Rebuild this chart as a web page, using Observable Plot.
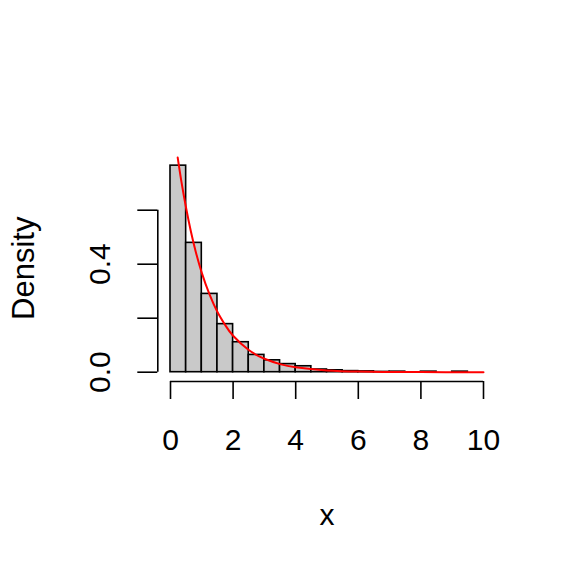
<!DOCTYPE html>
<html>
<head>
<meta charset="utf-8">
<script src="https://cdn.jsdelivr.net/npm/d3@7"></script>
<script src="https://cdn.jsdelivr.net/npm/@observablehq/plot@0.6"></script>
<style>
  html, body { margin: 0; padding: 0; background: white; }
  svg { display: block; }
</style>
</head>
<body>
<div id="chart"></div>
<script>
// Histogram bins (left edges, width 0.5) and densities
const binStart = [0, 0.5, 1, 1.5, 2, 2.5, 3, 3.5, 4, 4.5, 5, 5.5, 6, 6.5, 7, 7.5, 8, 8.5, 9];
const binEnd   = [0.5, 1, 1.5, 2, 2.5, 3, 3.5, 4, 4.5, 5, 5.5, 6, 6.5, 7, 7.5, 8, 8.5, 9, 9.5];
const density  = [0.765, 0.479, 0.290, 0.178, 0.111, 0.064, 0.044, 0.030, 0.022, 0.010,
                  0.007, 0.004, 0.003, 0.001, 0.002, 0.000, 0.002, 0.000, 0.002];

// Red density curve
const curveX = [0.23, 0.35, 0.5, 0.65, 0.8, 1, 1.25, 1.5, 1.75, 2, 2.5, 3, 3.5, 4, 5, 6, 7, 8, 9, 10];
const curveY = [0.795, 0.705, 0.607, 0.522, 0.449, 0.368, 0.287, 0.223, 0.174, 0.135,
                0.082, 0.050, 0.030, 0.018, 0.0067, 0.0025, 0.0009, 0.0003, 0.0001, 0.00005];

const xTicks = [0, 2, 4, 6, 8, 10];
const yTicks = [0, 0.2, 0.4, 0.6];
const yLabels = [0, 0.4];
const xTitle = "x";
const yTitle = "Density";

const bins = binStart.map((s, i) => ({x1: s, x2: binEnd[i], y: density[i]}));
const curve = curveX.map((x, i) => ({x, y: curveY[i]}));

const font = "Liberation Sans, Arial, Helvetica, sans-serif";

const chart = Plot.plot({
  width: 576,
  height: 576,
  marginLeft: 170,
  marginRight: 93,
  marginTop: 209.7,
  marginBottom: 204.3,
  style: {fontFamily: font, background: "white", color: "black"},
  x: {domain: [0, 10], axis: null},
  y: {domain: [0, 0.6], axis: null},
  marks: [
    Plot.rectY(bins, {x1: "x1", x2: "x2", y: "y", fill: "#c9c9c9", stroke: "black", strokeWidth: 1.6, inset: 0}),
    Plot.line(curve, {x: "x", y: "y", stroke: "#ff0000", strokeWidth: 2, curve: "natural"}),
    // x axis line + ticks
    Plot.ruleY([0], {x1: 0, x2: 10, dy: 9.3, stroke: "black", strokeWidth: 1.6}),
    Plot.axisX(xTicks, {anchor: "bottom", tickSize: 18, dy: 9.3, tickFormat: () => "", strokeWidth: 1.6, label: null}),
    Plot.text(xTicks, {x: d => d, text: d => String(d), frameAnchor: "bottom", dy: 68.5, fontSize: 30, lineAnchor: "middle", fill: "black"}),
    // y axis line + ticks
    Plot.ruleX([0], {y1: 0, y2: 0.6, dx: -12.7, stroke: "black", strokeWidth: 1.6}),
    Plot.axisY(yTicks, {anchor: "left", tickSize: 20, dx: -12.7, tickFormat: () => "", strokeWidth: 1.6, label: null}),
    Plot.text(yLabels, {y: d => d, text: d => d.toFixed(1), frameAnchor: "left", dx: -70, rotate: -90, fontSize: 30, textAnchor: "middle", lineAnchor: "middle", fill: "black"}),
    // titles
    Plot.text([xTitle], {text: d => d, frameAnchor: "bottom", dy: 143, fontSize: 30, lineAnchor: "middle", fill: "black"}),
    Plot.text([yTitle], {text: d => d, frameAnchor: "left", dx: -146, dy: -23, rotate: -90, fontSize: 31, textAnchor: "middle", lineAnchor: "middle", fill: "black"})
  ]
});
document.getElementById("chart").appendChild(chart);
</script>
</body>
</html>
